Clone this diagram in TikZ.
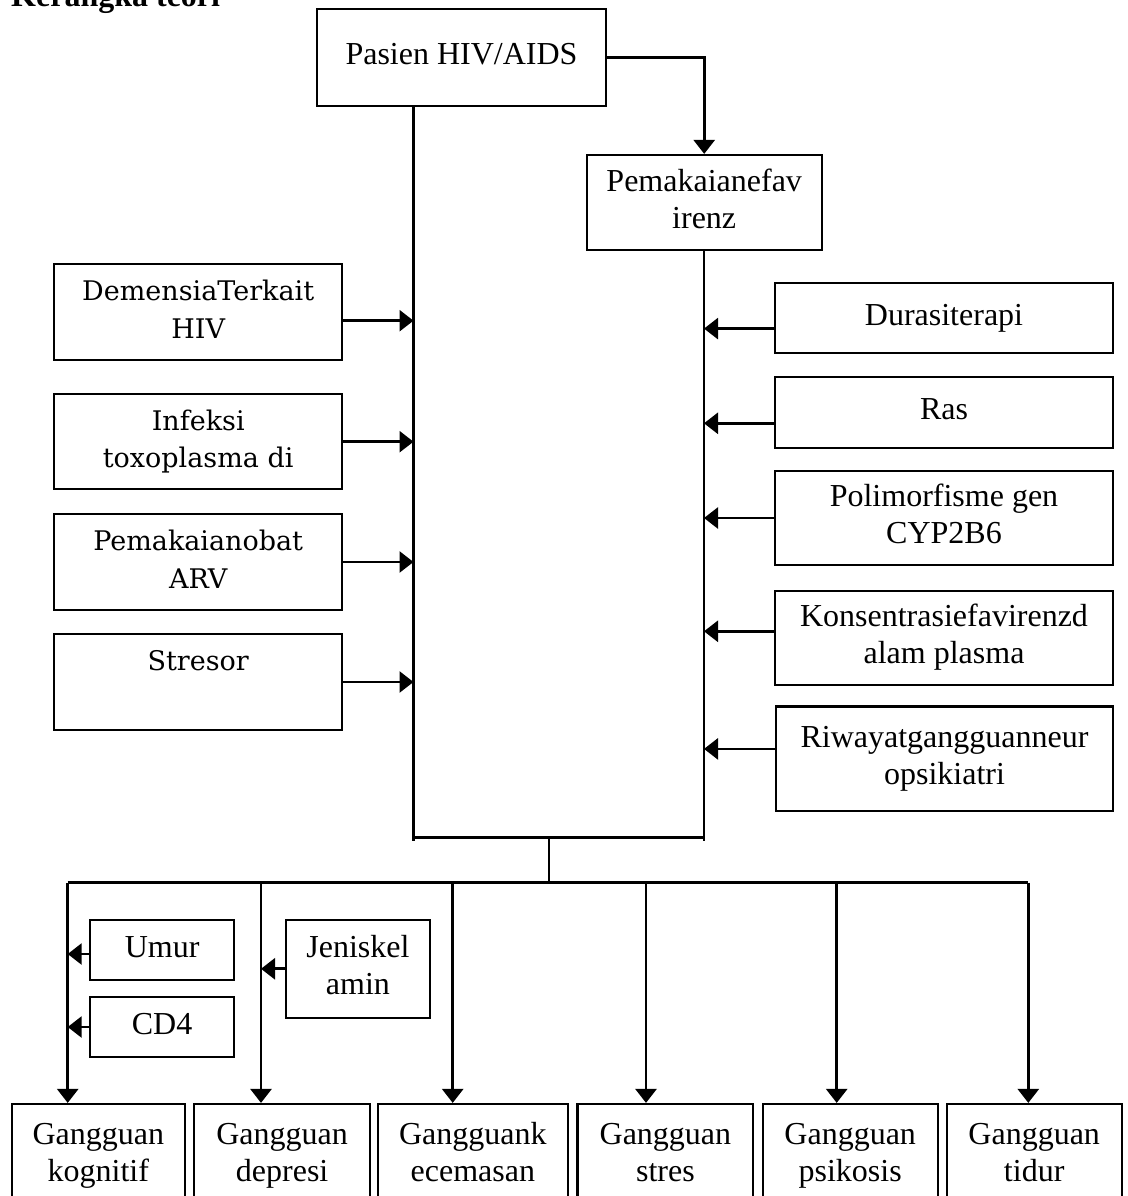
\documentclass[tikz,border=0pt]{standalone}
\usepackage{fontspec}
\setmainfont{Liberation Serif}
\newfontfamily\camfont{DejaVu Serif}
\usetikzlibrary{arrows.meta}
\newcommand\stl[1]{\strut#1}
\tikzset{
  box/.style={draw, line width=2.2pt, inner sep=0pt, align=center},
  tnr/.style={font=\fontsize{32}{37}\selectfont},
  cmb/.style={font=\camfont\fontsize{27}{37.3}\selectfont},
  conn/.style={line width=2.7pt},
  arr/.style={line width=2.7pt, -{Triangle[length=14pt,width=21pt]}},
}
\begin{document}
\begin{tikzpicture}[x=1pt,y=-1pt]
\useasboundingbox (0,0) rectangle (1127,1196);
% title
\node[anchor=base west, inner sep=0pt, font=\fontsize{32}{37}\selectfont\bfseries] (title) at (11,6.7) {Kerangka teori};
% top boxes
\node[box,tnr,minimum width=288.4,minimum height=96.4] (pas) at (461.5,57.5) {\stl{Pasien HIV/AIDS}};
\node[box,tnr,minimum width=235,minimum height=95] (efv) at (704.2,202.5) {\stl{Pemakaianefav}\\\stl{irenz}};
% left boxes
\node[box,cmb,minimum width=288.3,minimum height=96] (dem) at (198.2,312) {\stl{DemensiaTerkait}\\\stl{HIV}};
\node[box,cmb,minimum width=288.3,minimum height=95.3] (inf) at (198.2,441.7) {\stl{Infeksi}\\\stl{toxoplasma di}};
\node[box,cmb,minimum width=288.3,minimum height=96] (pob) at (198.2,562) {\stl{Pemakaianobat}\\\stl{ARV}};
\node[box,cmb,minimum width=288.3,minimum height=96] (str) at (198.2,682) {\stl{Stresor}\\\stl{}};
% right boxes
\node[box,tnr,minimum width=338,minimum height=70.4] (dur) at (944,318) {\stl{Durasiterapi}};
\node[box,tnr,minimum width=338,minimum height=70.4] (ras) at (944,412.4) {\stl{Ras}};
\node[box,tnr,minimum width=338,minimum height=94.3] (pol) at (944,518) {\stl{Polimorfisme gen}\\\stl{CYP2B6}};
\node[box,tnr,minimum width=338,minimum height=94] (kon) at (944,637.6) {\stl{Konsentrasiefavirenzd}\\\stl{alam plasma}};
\node[box,tnr,minimum width=337,minimum height=104.2] (riw) at (944.5,758.5) {\stl{Riwayatgangguanneur}\\\stl{opsikiatri}};
% small boxes
\node[box,tnr,minimum width=144.2,minimum height=60] (umur) at (162.1,950) {\stl{Umur}};
\node[box,tnr,minimum width=144.2,minimum height=59.4] (cd4) at (162.1,1027) {\stl{CD4}};
\node[box,tnr,minimum width=143.9,minimum height=97.7] (jen) at (357.9,968.8) {\stl{Jeniskel}\\\stl{amin}};
% bottom boxes
\node[box,tnr,minimum width=173.3,minimum height=104] (g1) at (98.35,1156) {\stl{Gangguan}\\\stl{kognitif}};
\node[box,tnr,minimum width=175.7,minimum height=104] (g2) at (282.15,1156) {\stl{Gangguan}\\\stl{depresi}};
\node[box,tnr,minimum width=190.3,minimum height=104] (g3) at (472.85,1156) {\stl{Gangguank}\\\stl{ecemasan}};
\node[box,tnr,minimum width=175.8,minimum height=104] (g4) at (665.4,1156) {\stl{Gangguan}\\\stl{stres}};
\node[box,tnr,minimum width=175,minimum height=104] (g5) at (850.2,1156) {\stl{Gangguan}\\\stl{psikosis}};
\node[box,tnr,minimum width=175,minimum height=104] (g6) at (1034.2,1156) {\stl{Gangguan}\\\stl{tidur}};
% helper coordinates
\coordinate (lx) at (413.5,0);
\coordinate (rx) at (704,0);
\coordinate (lbot) at (413.5,841);
\coordinate (rbot) at (704,841);
\coordinate (jl) at (413.5,837.3);
\coordinate (jr) at (704,837.3);
\coordinate (jm) at (549,837.3);
\coordinate (bm) at (549,882.7);
\coordinate (b1) at (67.7,882.7);
\coordinate (b2) at (261,882.7);
\coordinate (b3) at (452.7,882.7);
\coordinate (b4) at (646,882.7);
\coordinate (b5) at (836.7,882.7);
\coordinate (b6) at (1028.3,882.7);
% main connectors
\draw[arr] (pas.east) -| (efv.north);
\draw[conn] (pas.south -| lx) -- (lbot);
\draw[conn] (efv.south -| rx) -- (rbot);
\draw[conn] (jl) -- (jr);
\draw[conn] (jm) -- (bm);
\draw[conn] (b1) -- (b6);
\draw[arr] (b1) -- (b1 |- g1.north);
\draw[arr] (b2) -- (b2 |- g2.north);
\draw[arr] (b3) -- (b3 |- g3.north);
\draw[arr] (b4) -- (b4 |- g4.north);
\draw[arr] (b5) -- (b5 |- g5.north);
\draw[arr] (b6) -- (b6 |- g6.north);
% left influences
\draw[arr] ([yshift=-8.7pt]dem.east) -- ([yshift=-8.7pt]dem.east -| lx);
\draw[arr] (inf.east) -- (inf.east -| lx);
\draw[arr] (pob.east) -- (pob.east -| lx);
\draw[arr] (str.east) -- (str.east -| lx);
% right influences
\draw[arr] ([yshift=-10.6pt]dur.west) -- ([yshift=-10.6pt]dur.west -| rx);
\draw[arr] ([yshift=-10.9pt]ras.west) -- ([yshift=-10.9pt]ras.west -| rx);
\draw[arr] (pol.west) -- (pol.west -| rx);
\draw[arr] ([yshift=6.3pt]kon.west) -- ([yshift=6.3pt]kon.west -| rx);
\draw[arr] ([yshift=9.6pt]riw.west) -- ([yshift=9.6pt]riw.west -| rx);
% bottom-left influences
\draw[arr] ([yshift=-4pt]umur.west) -- ([yshift=-4pt]umur.west -| b1);
\draw[arr] (cd4.west) -- (cd4.west -| b1);
\draw[arr] (jen.west) -- (jen.west -| b2);
\end{tikzpicture}
\end{document}
